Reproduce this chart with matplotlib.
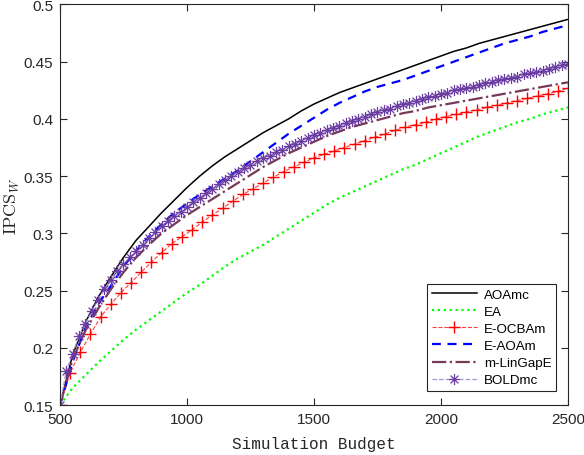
import numpy as np
import matplotlib
matplotlib.use('Agg')
import matplotlib.pyplot as plt
from matplotlib.path import Path

plt.rcParams['font.family'] = ['Liberation Sans', 'DejaVu Sans']
plt.rcParams['mathtext.fontset'] = 'cm'

# budgets (x) for each series
x50 = np.arange(500, 2501, 50)
x_ocba = np.arange(500, 2501, 40)
x_bold = np.arange(500, 2501, 25)

aoamc = [0.150, 0.194, 0.222, 0.244, 0.262, 0.279, 0.294, 0.306, 0.318, 0.329,
         0.340, 0.350, 0.359, 0.367, 0.374, 0.381, 0.388, 0.394, 0.400, 0.407,
         0.413, 0.418, 0.423, 0.427, 0.431, 0.435, 0.439, 0.443, 0.447, 0.451,
         0.455, 0.459, 0.462, 0.466, 0.469, 0.472, 0.475, 0.478, 0.481, 0.484,
         0.487]

ea = [0.150, 0.165, 0.176, 0.187, 0.197, 0.207, 0.216, 0.224, 0.232, 0.240,
      0.248, 0.255, 0.263, 0.271, 0.278, 0.284, 0.290, 0.297, 0.304, 0.311,
      0.318, 0.325, 0.331, 0.336, 0.341, 0.346, 0.351, 0.356, 0.360, 0.365,
      0.370, 0.375, 0.380, 0.385, 0.389, 0.393, 0.397, 0.400, 0.404, 0.407,
      0.410]

e_ocbam = [0.150, 0.178, 0.196, 0.212, 0.227, 0.238, 0.248, 0.257, 0.266, 0.275,
           0.283, 0.291, 0.297, 0.303, 0.310, 0.316, 0.322, 0.328, 0.334, 0.339,
           0.344, 0.349, 0.354, 0.358, 0.362, 0.366, 0.369, 0.372, 0.375, 0.378,
           0.381, 0.384, 0.387, 0.390, 0.393, 0.395, 0.397, 0.400, 0.402, 0.404,
           0.406, 0.408, 0.410, 0.412, 0.414, 0.416, 0.418, 0.420, 0.422, 0.424,
           0.427]

e_aoam = [0.150, 0.188, 0.217, 0.238, 0.254, 0.271, 0.285, 0.297, 0.308, 0.318,
          0.326, 0.334, 0.341, 0.348, 0.355, 0.363, 0.371, 0.379, 0.387, 0.394,
          0.401, 0.408, 0.414, 0.419, 0.424, 0.428, 0.431, 0.434, 0.438, 0.442,
          0.446, 0.450, 0.454, 0.458, 0.462, 0.466, 0.469, 0.472, 0.476, 0.479,
          0.482]

m_lingape = [0.150, 0.190, 0.215, 0.234, 0.251, 0.266, 0.279, 0.290, 0.300, 0.308,
             0.316, 0.323, 0.330, 0.337, 0.344, 0.351, 0.358, 0.364, 0.370, 0.375,
             0.380, 0.385, 0.389, 0.393, 0.396, 0.399, 0.402, 0.405, 0.407, 0.410,
             0.412, 0.414, 0.416, 0.418, 0.420, 0.422, 0.424, 0.426, 0.428, 0.430,
             0.432]

boldmc = [0.150, 0.180, 0.195, 0.210, 0.221, 0.232, 0.242, 0.251, 0.259, 0.267,
          0.273, 0.279, 0.285, 0.290, 0.296, 0.301, 0.306, 0.311, 0.315, 0.319,
          0.323, 0.327, 0.331, 0.335, 0.339, 0.343, 0.347, 0.350, 0.354, 0.357,
          0.360, 0.363, 0.366, 0.368, 0.371, 0.373, 0.376, 0.378, 0.381, 0.383,
          0.386, 0.388, 0.390, 0.392, 0.394, 0.396, 0.398, 0.400, 0.402, 0.404,
          0.406, 0.408, 0.409, 0.411, 0.413, 0.414, 0.416, 0.417, 0.419, 0.420,
          0.422, 0.423, 0.425, 0.426, 0.427, 0.428, 0.430, 0.431, 0.432, 0.434,
          0.435, 0.436, 0.437, 0.439, 0.440, 0.441, 0.442, 0.444, 0.445, 0.447,
          0.448]

# MATLAB-style asterisk marker (+ and x overlaid)
d = 0.707
asterisk = Path([(-1, 0), (1, 0), (0, -1), (0, 1), (-d, -d), (d, d), (-d, d), (d, -d)],
                [Path.MOVETO, Path.LINETO] * 4)

fig = plt.figure(figsize=(5.84, 4.56), dpi=100)
ax = fig.add_axes([0.1027, 0.1096, 0.8699, 0.8784])

ax.plot(x50, aoamc, color='k', linestyle='-', linewidth=1.1, label='AOAmc')
ax.plot(x50, ea, color=(0, 1, 0), linestyle=':', linewidth=1.6, label='EA')
ax.plot(x_ocba, e_ocbam, color=(1, 0.25, 0.25), linestyle='--', linewidth=0.8,
        marker='+', markersize=8, markeredgewidth=1.0, markeredgecolor='r', label='E-OCBAm')
ax.plot(x50, e_aoam, color='b', linestyle='--', linewidth=1.6, dashes=(4, 3), label='E-AOAm')
ax.plot(x50, m_lingape, color=(0.47, 0.22, 0.34), linestyle='-.', linewidth=1.6, label='m-LinGapE')
purple = (0.42, 0.24, 0.64)
ax.plot(x_bold, boldmc, color=(0.68, 0.58, 0.84), linestyle='--', linewidth=0.9,
        marker=asterisk, markersize=8, markeredgewidth=0.9, markerfacecolor='none',
        markeredgecolor=purple, label='BOLDmc')

ax.set_xlim(500, 2500)
ax.set_ylim(0.15, 0.5)
ax.set_xticks([500, 1000, 1500, 2000, 2500])
ax.set_xticklabels(['500', '1000', '1500', '2000', '2500'])
ax.set_yticks([0.15, 0.2, 0.25, 0.3, 0.35, 0.4, 0.45, 0.5])
ax.set_yticklabels(['0.15', '0.2', '0.25', '0.3', '0.35', '0.4', '0.45', '0.5'])
ax.tick_params(direction='in', top=True, right=True, length=5, width=0.8,
               labelsize=11, colors='0.15', pad=5)
for s in ax.spines.values():
    s.set_color('0.15')
    s.set_linewidth(0.8)

ax.set_xlabel('Simulation Budget', family='Liberation Mono', fontsize=11.5, color='0.15', labelpad=7)
ax.set_ylabel(r'$\mathrm{IPCS}_W$', fontsize=13, color='0.15', labelpad=1)

leg = ax.legend(loc='lower right', bbox_to_anchor=(0, 0.035, 0.9764, 1), borderaxespad=0,
                fontsize=9.6, handlelength=3.4, handletextpad=0.5, labelspacing=0.36,
                borderpad=0.35, fancybox=False, framealpha=1, edgecolor='0.15')
leg.get_frame().set_linewidth(0.8)

fig.savefig('out.png', dpi=100)
